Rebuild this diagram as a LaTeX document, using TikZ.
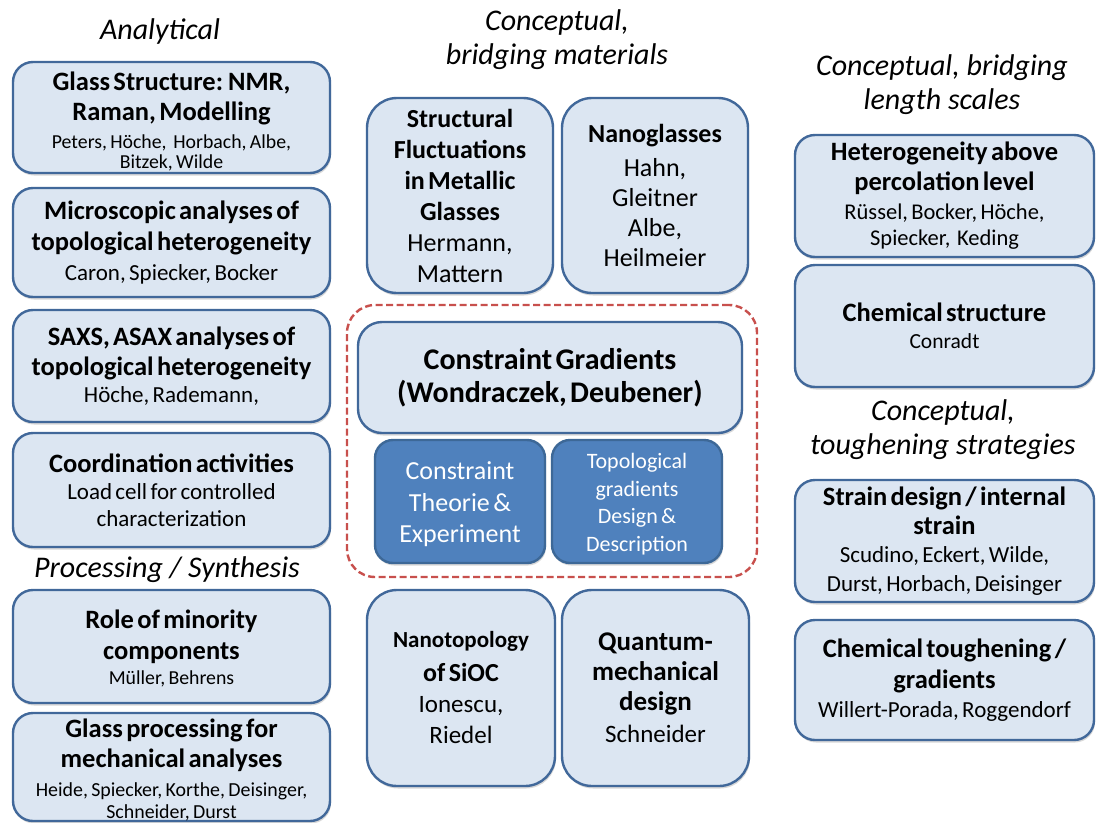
\documentclass[tikz,border=0pt]{standalone}
\usepackage{fontspec}
\setmainfont{Carlito}
\usetikzlibrary{shadows}

\definecolor{boxfill}{HTML}{DCE6F2}
\definecolor{boxline}{HTML}{41689A}
\definecolor{darkfill}{HTML}{4F81BD}
\definecolor{darkline}{HTML}{3D6897}
\definecolor{dashred}{HTML}{C8504D}

% font switches: title (bold) and author (regular) lines
\newcommand\setT[2]{\fontsize{#1pt}{#2pt}\selectfont\bfseries}
\newcommand\setA[2]{\fontsize{#1pt}{#2pt}\selectfont\mdseries}
% taller first line, pushes a text block slightly down
\newcommand\lift[1]{\rule{0pt}{#1pt}}

\tikzset{
  x=1pt, y=-1pt,
  panel/.style={draw=boxline, line width=2.4pt, fill=boxfill, rounded corners=20pt,
    inner sep=0pt, align=center, text=black,
    drop shadow={shadow xshift=1pt, shadow yshift=-2.5pt, opacity=.25, fill=black!60}},
  bigpanel/.style={panel, rounded corners=30pt},
  darkpanel/.style={draw=darkline, line width=2.4pt, fill=darkfill, rounded corners=18pt,
    inner sep=0pt, align=center, text=white,
    drop shadow={shadow xshift=1pt, shadow yshift=-2.5pt, opacity=.25, fill=black!60}},
  heading/.style={align=center, font=\fontsize{30pt}{34pt}\selectfont\itshape, text=black},
  focus/.style={draw=dashred, line width=2.4pt, dash pattern=on 7pt off 3.5pt, rounded corners=28pt}
}

\begin{document}
\begin{tikzpicture}
\useasboundingbox (0,0) rectangle (1097,822);
\fill[white] (0,0) rectangle (1097,822);

% ---------- column headings ----------
\node[heading] (hana) at (160,32) {Analytical};
\node[heading] (hmat) at (557,40) {Conceptual,\\bridging materials};
\node[heading] (hlen) at (942,85) {Conceptual, bridging\\length scales};
\node[heading] (hproc) at (167,570) {Processing / Synthesis};
\node[heading] (htough) at (943,430) {Conceptual,\\toughening strategies};

% ---------- analytical column ----------
\node[panel, minimum width=317pt, minimum height=111pt, text width=310pt] (glass) at (171.5,117.5)
  {{\setT{26.5}{30}\lift{27}Glass Structure: NMR,\\Raman, Modelling\par}
   {\setA{19.8}{20.5}\vspace{7pt}Peters, Höche,~ Horbach, Albe,\\Bitzek, Wilde\par}};
\node[panel, minimum width=317pt, minimum height=109pt, text width=310pt] (micro) at (171.5,242.5)
  {{\setT{26.5}{31}Microscopic analyses of\\topological heterogeneity\par}
   {\setA{23}{30}Caron, Spiecker, Bocker\par}};
\node[panel, minimum width=317pt, minimum height=112pt, text width=310pt] (saxs) at (171.5,366)
  {{\setT{26.5}{30}SAXS, ASAX analyses of\\topological heterogeneity\par}
   {\setA{23}{27}Höche, Rademann,\par}};
\node[panel, minimum width=317pt, minimum height=114pt, text width=310pt] (coord) at (171.5,490)
  {{\setT{26.5}{30}Coordination activities\par}
   {\setA{23}{27}Load cell for controlled\\characterization\par}};
\node[panel, minimum width=317pt, minimum height=113pt, text width=310pt] (minor) at (171.5,646.5)
  {{\setT{26.5}{31}\lift{23}Role of minority\\components\par}
   {\setA{19.8}{25}Müller, Behrens\par}};
\node[panel, minimum width=317pt, minimum height=108pt, text width=310pt] (proc) at (171.5,767)
  {{\setT{26.5}{30}\lift{24}Glass processing for\\mechanical analyses\par}
   {\setA{19.9}{22}\vspace{7pt}Heide, Spiecker, Korthe, Deisinger,\\Schneider, Durst\par}};

% ---------- bridging materials column ----------
\node[bigpanel, minimum width=186pt, minimum height=195pt, text width=180pt] (metal) at (460,195.5)
  {\fontsize{26pt}{31pt}\selectfont
   \textbf{Structural}\\\textbf{Fluctuations}\\\textbf{in Metallic}\\\textbf{Glasses}\\Hermann,\\Mattern\par};
\node[bigpanel, minimum width=186pt, minimum height=195pt, text width=180pt] (nano) at (655,195.5)
  {{\setT{26}{31}Nanoglasses\par}
   {\setA{26}{30}\vspace{4pt}Hahn,\\Gleitner\\Albe,\\Heilmeier\par}};

% central topic with its two sub-projects
\node[focus, minimum width=410pt, minimum height=272pt] (core) at (552,441) {};
\node[panel, rounded corners=24pt, minimum width=384pt, minimum height=111pt, text width=378pt] (grad) at (550,377.5)
  {\setT{30}{33}Constraint Gradients\\(Wondraczek, Deubener)\par};
\node[darkpanel, minimum width=170pt, minimum height=123pt, text width=166pt] (theory) at (460,501.5)
  {\fontsize{26pt}{31.5pt}\selectfont\lift{24}Constraint\\Theorie \&\\Experiment\par};
\node[darkpanel, minimum width=170pt, minimum height=123pt, text width=166pt] (topo) at (637,501.5)
  {\fontsize{22pt}{27.5pt}\selectfont\lift{21}Topological\\gradients\\Design \&\\Description\par};

\node[bigpanel, minimum width=188pt, minimum height=196pt, text width=182pt] (sioc) at (461,688)
  {{\setT{23}{34}Nanotopology\\\fontsize{26pt}{34pt}\selectfont of SiOC\par}
   {\setA{25}{31}Ionescu,\\Riedel\par}};
\node[bigpanel, minimum width=187pt, minimum height=196pt, text width=181pt] (quant) at (655.5,688)
  {{\setT{27}{30}Quantum-\\mechanical\\design\par}
   {\setA{25}{32}Schneider\par}};

% ---------- length scales / toughening column ----------
\node[panel, minimum width=299pt, minimum height=122pt, text width=293pt] (perc) at (944.5,196)
  {{\setT{26.5}{30}Heterogeneity above\\percolation level\par}
   {\setA{22.5}{26.5}\vspace{2pt}Rüssel, Bocker, Höche,\\Spiecker,~ Keding\par}};
\node[panel, minimum width=299pt, minimum height=122pt, text width=293pt] (chem) at (944.5,326)
  {{\setT{26.5}{30}Chemical structure\par}
   {\setA{21.5}{27}Conradt\par}};
\node[panel, minimum width=299pt, minimum height=122pt, text width=293pt] (strain) at (944.5,541)
  {{\setT{26.5}{29}Strain design / internal\\strain\par}
   {\setA{23}{28.5}Scudino, Eckert, Wilde,\\Durst, Horbach, Deisinger\par}};
\node[panel, minimum width=299pt, minimum height=120pt, text width=293pt] (tough) at (944.5,680)
  {{\setT{26.5}{31}Chemical toughening /\\gradients\par}
   {\setA{23}{29}Willert-Porada, Roggendorf\par}};
\end{tikzpicture}
\end{document}
